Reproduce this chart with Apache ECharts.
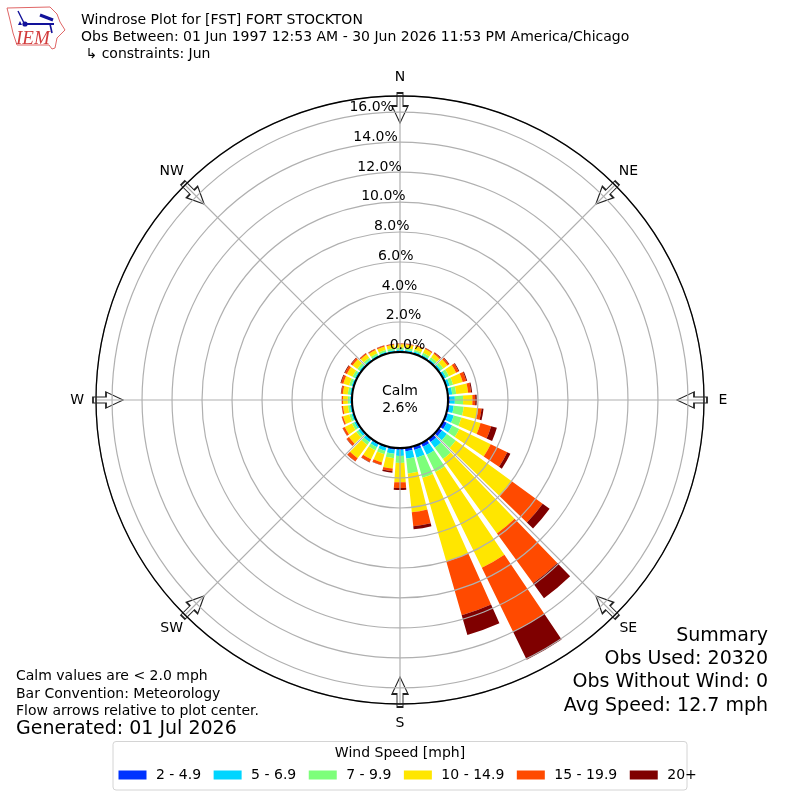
<!DOCTYPE html>
<html><head><meta charset="utf-8">
<style>html,body{margin:0;padding:0;background:#fff}#c{width:800px;height:800px}</style>
<script src="https://cdn.jsdelivr.net/npm/echarts@6/dist/echarts.min.js"></script>
</head><body><div id="c"></div>
<script>
const directions = Array.from({length:36},(_,i)=>String(i*10));
const speedBins = ['2 - 4.9','5 - 6.9','7 - 9.9','10 - 14.9','15 - 19.9','20+'];
const binColors = ['#0033ff','#00d5ff','#7dff7a','#ffe600','#ff4a00','#7f0000'];
const bin2to5   = [.03,.03,.03,.03,.03,.04,.05,.05,.07,.13,.13,.13,.27,.27,.27,.27,.27,.23,.13,.13,.1,.1,.07,.07,.07,.05,.05,.04,.04,.04,.04,.04,.03,.03,.03,.03];
const bin5to7   = [.13,.13,.13,.13,.13,.15,.17,.2,.23,.33,.27,.4,.4,.4,.47,.6,.53,.5,.4,.27,.23,.2,.2,.17,.13,.12,.11,.11,.11,.12,.12,.11,.11,.11,.11,.11];
const bin7to10  = [.13,.13,.13,.15,.17,.19,.21,.23,.27,.55,.67,.53,.53,.73,.93,1.27,1.4,1,.47,.3,.23,.23,.23,.17,.17,.15,.13,.13,.15,.17,.17,.17,.15,.13,.13,.13];
const bin10to15 = [.23,.23,.25,.27,.28,.33,.53,.67,.8,.62,.97,1.33,2.33,4.64,6.13,7.11,5.8,2.59,1.29,.7,.57,.67,1.1,.6,.53,.43,.33,.32,.33,.4,.41,.39,.28,.24,.24,.23];
const bin15to20 = [.05,.05,.06,.07,.08,.12,.19,.25,.2,.19,.23,.73,1.23,2.52,4.1,4.75,3.73,.95,.38,.17,.17,.2,.25,.18,.15,.09,.08,.08,.11,.15,.15,.13,.08,.07,.07,.06];
const bin20plus = [.01,.01,.02,.02,.04,.04,.05,.06,.07,.1,.13,.4,.23,.57,1.23,2.07,1.37,.2,.13,.1,.03,.03,.02,.02,.02,.01,.01,.01,.03,.05,.05,.03,.02,.02,.02,.01];
const binValues = [bin2to5,bin5to7,bin7to10,bin10to15,bin15to20,bin20plus];
const ringTicks = [0,2,4,6,8,10,12,14,16];
const arrowAngles = [0,45,90,135,180,225,270,315];
const compassNames = ['N','NE','E','SE','S','SW','W','NW'];
const titleLines = ['Windrose Plot for [FST] FORT STOCKTON','Obs Between: 01 Jun 1997 12:53 AM - 30 Jun 2026 11:53 PM America/Chicago',' \u21B3 constraints: Jun'];
const noteLines = ['Calm values are < 2.0 mph','Bar Convention: Meteorology','Flow arrows relative to plot center.'];
const summaryLines = ['Summary','Obs Used: 20320','Obs Without Wind: 0','Avg Speed: 12.7 mph'];
const generated = 'Generated: 01 Jul 2026';
const calmLines = 'Calm\n2.6%';

const FONT = '"DejaVu Sans"';
const RMAX = 17.07;
const arrowPath = 'path://M5 0 L11 0 L11 13 L16 13 L8 30 L0 13 L5 13 Z';
const T = (x,y,text,size,align,extra)=>({type:'text',z:20,x:x,y:y,style:Object.assign({text:text,font:size+'px '+FONT,fill:'#000',textAlign:align||'left',textVerticalAlign:'middle'},extra||{})});

const graphic = [
  {type:'circle',z:20,shape:{cx:400,cy:400,r:48},style:{fill:'#fff',stroke:'#000',lineWidth:2}},
  T(400,400,calmLines,14,'center',{lineHeight:17}),
  T(81,20,titleLines[0],14), T(81,37,titleLines[1],14), T(81,54,titleLines[2],14),
  T(16,676,noteLines[0],14), T(16,694,noteLines[1],14), T(16,711,noteLines[2],14),
  T(16,729,generated,19),
  T(768,636,summaryLines[0],19,'right'), T(768,659,summaryLines[1],19,'right'),
  T(768,682,summaryLines[2],19,'right'), T(768,706,summaryLines[3],19,'right'),
  {type:'rect',z:15,shape:{x:113,y:741.5,width:574,height:48.5,r:3},style:{fill:'#fff',stroke:'#d4d4d4',lineWidth:1}},
  T(400,753,'Wind Speed [mph]',14,'center'),
  // logo
  {type:'polygon',z:20,shape:{points:[[7,8],[50,7],[57,14],[60,22],[65,30],[57,38],[55,48],[52,49],[49,45],[17,45],[13,33],[10,20]]},style:{fill:'#fff',stroke:'#e06666',lineWidth:1}},
  {type:'polyline',z:20,shape:{points:[[24,24],[54,24]]},style:{stroke:'#12129a',lineWidth:2,fill:null}},
  {type:'polyline',z:20,shape:{points:[[18,11],[24,23]]},style:{stroke:'#12129a',lineWidth:1.4,fill:null}},
  {type:'polyline',z:20,shape:{points:[[40,15],[53,20]]},style:{stroke:'#12129a',lineWidth:3,fill:null}},
  {type:'polyline',z:20,shape:{points:[[50,24],[52,33]]},style:{stroke:'#12129a',lineWidth:1.6,fill:null}},
  {type:'circle',z:20,shape:{cx:25,cy:24,r:2.6},style:{fill:'#12129a'}},
  {type:'polygon',z:20,shape:{points:[[18,25],[22,25],[20,21]]},style:{fill:'#12129a'}},
  {type:'text',z:20,x:16,y:29,style:{text:'IEM',font:'italic 19px "Liberation Serif"',fill:'#d23c3c'}}
];

const barSeries = speedBins.map((name,i)=>({
  name:name,type:'bar',coordinateSystem:'polar',polarIndex:0,stack:'wind',
  barWidth:'80%',data:binValues[i],itemStyle:{color:binColors[i]},silent:true,z:2
}));

const option = {
  animation:false,backgroundColor:'#fff',textStyle:{fontFamily:FONT},
  graphic:graphic,
  legend:{left:118.5,top:768,itemWidth:28,itemHeight:9,itemGap:12.5,padding:0,z:20,
    icon:'rect',selectedMode:false,data:speedBins,
    textStyle:{fontFamily:FONT,fontSize:14,color:'#000',padding:[0,0,0,4.5]}},
  polar:[{center:[400,400],radius:[48,304]},{center:[400,400],radius:[48,304]}],
  angleAxis:[
    {polarIndex:0,type:'category',data:directions,startAngle:95,clockwise:true,boundaryGap:true,show:false},
    {polarIndex:1,type:'value',min:0,max:360,interval:45,startAngle:90,clockwise:true,z:6,
      axisLine:{show:true,lineStyle:{color:'#000',width:1.3}},axisTick:{show:false},
      splitLine:{show:true,lineStyle:{color:'#b0b0b0',width:1.2}},
      axisLabel:{show:false}}
  ],
  radiusAxis:[
    {polarIndex:0,type:'value',min:0,max:RMAX,show:false},
    {polarIndex:1,type:'value',min:0,max:RMAX,interval:2,z:5,
      axisLine:{show:false},axisTick:{show:false},axisLabel:{show:false},
      splitLine:{show:true,lineStyle:{color:'#b0b0b0',width:1.2}}}
  ],
  series:[...barSeries,
    {type:'scatter',coordinateSystem:'polar',polarIndex:1,silent:true,z:1,clip:false,
      symbol:arrowPath,symbolSize:[16,30],
      data:arrowAngles.map(a=>({value:[16.27,a],symbolRotate:-a})),
      itemStyle:{color:'#fff',borderColor:'#222',borderWidth:1.3,opacity:1}},
    {type:'scatter',coordinateSystem:'polar',polarIndex:1,silent:true,z:10,clip:false,
      symbolSize:0,itemStyle:{opacity:1},
      data:ringTicks.map(t=>[t,352.5]),
      label:{show:true,position:'inside',align:'right',verticalAlign:'middle',offset:[31.5,-7],
        fontFamily:FONT,fontSize:14,color:'#000',formatter:p=>p.value[0].toFixed(1)+'%'}},
    {type:'scatter',coordinateSystem:'polar',polarIndex:1,silent:true,z:10,clip:false,
      symbolSize:0,itemStyle:{opacity:1},
      data:arrowAngles.map(a=>[18.33,a]),
      label:{show:true,position:'inside',align:'center',verticalAlign:'middle',
        fontFamily:FONT,fontSize:14,color:'#000',formatter:p=>compassNames[p.dataIndex]}}
  ]
};
const chart = echarts.init(document.getElementById('c'),null,{renderer:'canvas'});
chart.setOption(option);
</script></body></html>
